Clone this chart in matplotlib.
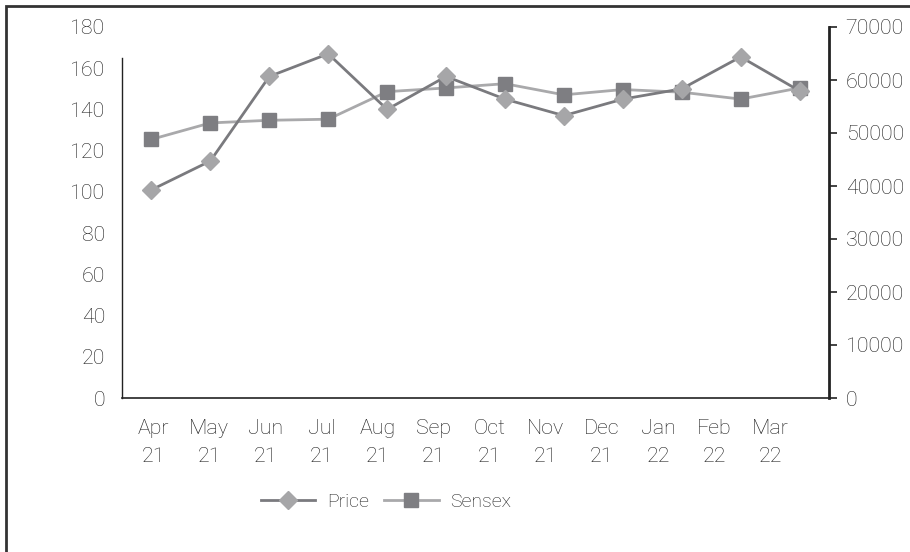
import numpy as np
import matplotlib
matplotlib.use("Agg")
import matplotlib.pyplot as plt
from matplotlib.patches import Rectangle

months = ["Apr\n21", "May\n21", "Jun\n21", "Jul\n21", "Aug\n21", "Sep\n21",
          "Oct\n21", "Nov\n21", "Dec\n21", "Jan\n22", "Feb\n22", "Mar\n22"]
price = [101, 115, 156, 167, 140, 156, 145, 137, 145, 150, 165.5, 149]
sensex = [48800, 51900, 52400, 52600, 57800, 58500, 59300, 57200, 58200, 57700, 56400, 58500]

plt.rcParams['font.family'] = ['Roboto', 'DejaVu Sans']
text_col = '#1e1e1e'
fs = 15.4
fw = 'light'

fig = plt.figure(figsize=(9.10, 5.52), dpi=100)
ax = fig.add_axes([122 / 910, 1 - 398 / 552, (829 - 122) / 910, (398 - 27) / 552])
ax2 = ax.twinx()
ax2.set_zorder(ax.get_zorder() - 1)
ax.patch.set_visible(False)

x = np.arange(len(months))
ax2.plot(x, sensex, color='#a9a9ab', lw=2.0, marker='s', markersize=9.5,
         markerfacecolor='#7e7e82', markeredgecolor='#7e7e82', label='Sensex')
ax.plot(x, price, color='#7a7a7e', lw=2.0, marker='D', markersize=9,
        markerfacecolor='#a6a6a8', markeredgecolor='#a6a6a8', label='Price')

ax.set_xlim(-0.5, 11.5)
ax.set_ylim(0, 180)
ax2.set_ylim(0, 70000)

# left axis
ax.set_yticks(np.arange(0, 181, 20))
ax.tick_params(axis='y', length=0, pad=12, labelsize=fs, labelcolor=text_col)
for t in ax.get_yticklabels():
    t.set_fontweight(fw)
ax.spines['left'].set_bounds(0, 165)
ax.spines['left'].set_linewidth(1.0)
ax.spines['left'].set_color('#222222')
ax.spines['top'].set_visible(False)
ax.spines['right'].set_visible(False)
ax.spines['bottom'].set_linewidth(1.2)
ax.spines['bottom'].set_color('#222222')

# category labels (drawn slightly tighter than the markers, as in the source)
ax.set_xticks(np.arange(len(months)) * 0.952 + 0.03)
ax.set_xticklabels(months, fontsize=fs, color=text_col, fontweight=fw, linespacing=1.6)
ax.tick_params(axis='x', length=0, pad=15)

# right axis
ax2.set_yticks(np.arange(0, 70001, 10000))
ax2.tick_params(axis='y', length=6, width=1.2, color='#222222', pad=6,
                labelsize=fs, labelcolor=text_col)
for t in ax2.get_yticklabels():
    t.set_fontweight(fw)
for s in ['top', 'left', 'bottom']:
    ax2.spines[s].set_visible(False)
ax2.spines['right'].set_linewidth(2.0)
ax2.spines['right'].set_color('#222222')

h1, l1 = ax.get_legend_handles_labels()
h2, l2 = ax2.get_legend_handles_labels()
leg = fig.legend(h1 + h2, l1 + l2, loc='center', bbox_to_anchor=(386 / 910, 1 - 502 / 552),
                 ncol=2, frameon=False, handlelength=2.8, handletextpad=0.6,
                 columnspacing=0.8, prop={'size': 14, 'weight': fw})
for t in leg.get_texts():
    t.set_color(text_col)

# outer frame (top and left edges visible)
fig.add_artist(Rectangle((6 / 910, -0.1), 1.2, 1.1 - 6 / 552, transform=fig.transFigure,
                         fill=False, edgecolor='#333333', lw=2.0))

fig.savefig('out.png', dpi=100)
